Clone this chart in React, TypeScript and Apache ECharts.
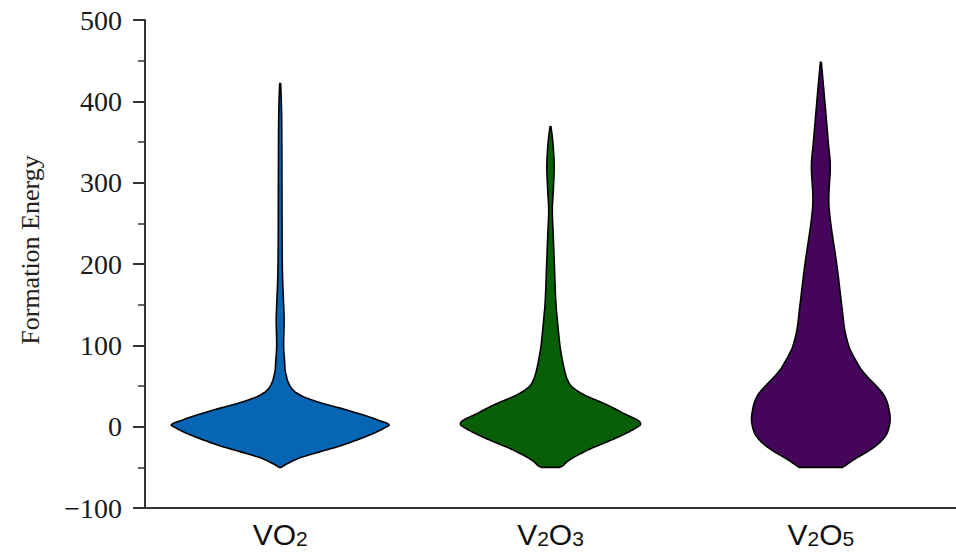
import React, { useEffect, useRef } from "react";
import * as echarts from "echarts";

const categories = ["VO2", "V2O3", "V2O5"];
const colors = ["#0766b4", "#085f08", "#45055a"];

// Violin outlines: energy level and half-width (density, px at band width 273)
const vo2Values = [-50, -45, -37, -25, -17, -10, -5, -1, 2, 5, 8, 12, 18, 24, 30, 36, 42, 48, 55, 61, 70, 80, 100, 130, 150, 180, 220, 300, 380, 422];
const vo2Density = [1, 8, 23, 57, 76, 91, 100, 106, 110, 106, 99, 90, 74, 57, 39, 25, 16, 11, 8, 6.5, 5, 4.5, 3.5, 4, 3.5, 2.5, 2, 1.8, 1.5, 0.5];

const v2o3Values = [-50, -48, -41, -29.7, -22.8, -14.6, -6.5, -1, 3, 8, 15.6, 22, 28, 38.5, 48.7, 58, 70, 85, 100, 130, 155, 196, 237, 266, 290, 320, 348, 369];
const v2o3Density = [9, 12.5, 19, 36, 49, 65, 79, 87, 91, 88, 75, 65, 55, 35, 22, 17, 14, 11.5, 9.5, 7, 5.3, 4, 2.7, 1.8, 2.8, 3.7, 2.5, 0.5];

const v2o5Values = [-50, -45, -40, -30, -20, -10, 0, 10, 20, 30, 40, 50, 60, 70, 80, 90, 100, 120, 150, 200, 250, 280, 320, 350, 400, 448];
const v2o5Density = [22, 28, 34, 48, 59, 66, 69, 70, 69, 67, 63, 56, 48, 41, 36, 31.5, 28, 24, 21, 16, 10, 8, 9.5, 7.5, 4, 0.5];

const violinValues = [vo2Values, v2o3Values, v2o5Values];
const violinDensity = [vo2Density, v2o3Density, v2o5Density];

const yTicks = { min: -100, max: 500, interval: 100 };

// Catmull-Rom curve through the outline points (rendering only)
function spline(pts: number[][], steps: number): number[][] {
  const out: number[][] = [];
  const n = pts.length;
  for (let i = 0; i < n - 1; i++) {
    const p0 = pts[Math.max(0, i - 1)];
    const p1 = pts[i];
    const p2 = pts[i + 1];
    const p3 = pts[Math.min(n - 1, i + 2)];
    for (let s = 0; s < steps; s++) {
      const t = s / steps;
      const t2 = t * t;
      const t3 = t2 * t;
      const f = (a: number, b: number, c: number, d: number) =>
        0.5 * (2 * b + (-a + c) * t + (2 * a - 5 * b + 4 * c - d) * t2 + (-a + 3 * b - 3 * c + d) * t3);
      out.push([Math.max(0, f(p0[0], p1[0], p2[0], p3[0])), f(p0[1], p1[1], p2[1], p3[1])]);
    }
  }
  out.push(pts[n - 1]);
  return out;
}

export default function App() {
  const ref = useRef<HTMLDivElement>(null);
  useEffect(() => {
    if (!ref.current) return;
    const chart = echarts.init(ref.current, undefined, { renderer: "svg" });
    const subMap: Record<string, string> = {
      VO2: "{m|VO}{s|2}",
      V2O3: "{m|V}{s|2}{m|O}{s|3}",
      V2O5: "{m|V}{s|2}{m|O}{s|5}",
    };
    chart.setOption({
      animation: false,
      grid: { left: 145, right: -10, top: 20, bottom: 44 },
      xAxis: {
        type: "category",
        data: categories,
        axisLine: { onZero: false, lineStyle: { color: "#333", width: 2 } },
        axisTick: { alignWithLabel: true, length: 8, lineStyle: { color: "#333", width: 2 } },
        axisLabel: {
          margin: 13,
          formatter: (v: string) => subMap[v] || v,
          rich: {
            m: { fontFamily: "Liberation Sans", fontSize: 30, lineHeight: 28, color: "#111", verticalAlign: "bottom" },
            s: { fontFamily: "Liberation Sans", fontSize: 21, lineHeight: 28, color: "#111", verticalAlign: "bottom" },
          },
        },
        splitLine: { show: false },
      },
      yAxis: {
        type: "value",
        min: yTicks.min,
        max: yTicks.max,
        interval: yTicks.interval,
        name: "Formation Energy",
        nameLocation: "middle",
        nameGap: 102,
        nameTextStyle: { fontFamily: "Liberation Serif", fontSize: 26, color: "#222", padding: [0, 0, 0, 28] },
        axisLine: { show: true, lineStyle: { color: "#333", width: 2 } },
        axisTick: { show: true, length: 12, lineStyle: { color: "#333", width: 2 } },
        minorTick: { show: true, splitNumber: 2, length: 7, lineStyle: { color: "#333", width: 1.5 } },
        axisLabel: {
          margin: 23,
          fontFamily: "Liberation Serif",
          fontSize: 28,
          color: "#1a1a1a",
          formatter: (v: number) => (v < 0 ? "\u2212" + Math.abs(v) : String(v)),
        },
        splitLine: { show: false },
      },
      series: [
        {
          type: "custom",
          data: categories.map((_, i) => [i]),
          encode: { x: 0 },
          renderItem: (params: any, api: any) => {
            const idx = api.value(0);
            const cx = api.coord([idx, 0])[0];
            const band = api.size([1, 0])[0];
            const k = band / 273;
            const vals = violinValues[idx];
            const dens = violinDensity[idx];
            const raw: number[][] = [];
            for (let j = 0; j < vals.length; j++) {
              raw.push([dens[j] * k, api.coord([idx, vals[j]])[1]]);
            }
            const curve = spline(raw, 10);
            const right = curve.map((p) => [cx + p[0], p[1]]);
            const left = curve.map((p) => [cx - p[0], p[1]]).reverse();
            return {
              type: "polygon",
              shape: { points: right.concat(left) },
              style: { fill: colors[idx], stroke: "#000", lineWidth: 1.6, lineJoin: "round" },
            };
          },
        },
      ],
    });
    return () => chart.dispose();
  }, []);
  return <div ref={ref} style={{ position: "absolute", left: 0, top: 0, width: 956, height: 552 }} />;
}
